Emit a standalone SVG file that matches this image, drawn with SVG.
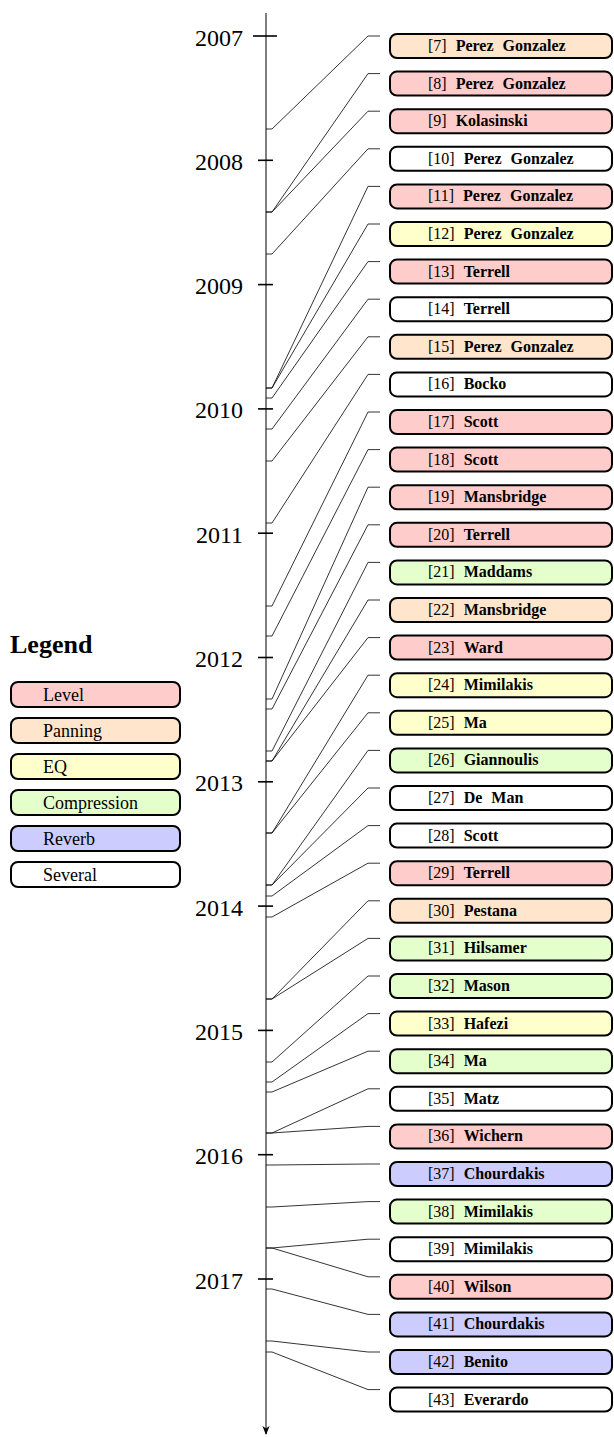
<svg xmlns="http://www.w3.org/2000/svg" width="614" height="1437" viewBox="0 0 614 1437">
<defs>
<marker id="arr" viewBox="0 0 10 10" refX="9" refY="5" markerWidth="9" markerHeight="9" markerUnits="userSpaceOnUse" orient="auto">
<path d="M0,1 L10,5 L0,9 L3,5 Z" fill="#000"/>
</marker>
</defs>
<style>
text{font-family:"Liberation Serif","Times New Roman",serif;fill:#000}
.yr{font-size:24px;text-anchor:end}
.bx text{font-size:16px;word-spacing:5px}
.bx rect{stroke:#000;stroke-width:2}
.lg rect{stroke:#000;stroke-width:2}
.lg text{font-size:18px}
.b{font-weight:bold}
.level rect{fill:#ffcccc}
.pan rect{fill:#ffe5cc}
.eq rect{fill:#ffffcc}
.comp rect{fill:#e5ffcc}
.rev rect{fill:#ccccff}
.sev rect{fill:#ffffff}
.conn path{fill:none;stroke:#000;stroke-width:0.8}
.tick{stroke:#000;stroke-width:1.6}
</style>
<rect width="614" height="1437" fill="#fff"/>
<g id="axis">
<line x1="266" y1="13" x2="266" y2="1434" stroke="#000" stroke-width="1" marker-end="url(#arr)"/>
<line class="tick" x1="253" y1="36" x2="277" y2="36"/>
<line class="tick" x1="258" y1="160.3" x2="273" y2="160.3"/>
<line class="tick" x1="258" y1="284.6" x2="273" y2="284.6"/>
<line class="tick" x1="258" y1="408.9" x2="273" y2="408.9"/>
<line class="tick" x1="258" y1="533.2" x2="273" y2="533.2"/>
<line class="tick" x1="258" y1="657.5" x2="273" y2="657.5"/>
<line class="tick" x1="258" y1="781.8" x2="273" y2="781.8"/>
<line class="tick" x1="258" y1="906.1" x2="273" y2="906.1"/>
<line class="tick" x1="258" y1="1030.4" x2="273" y2="1030.4"/>
<line class="tick" x1="258" y1="1154.7" x2="273" y2="1154.7"/>
<line class="tick" x1="258" y1="1279" x2="273" y2="1279"/>
<text class="yr" x="243" y="45.5">2007</text>
<text class="yr" x="243" y="169.8">2008</text>
<text class="yr" x="243" y="294.1">2009</text>
<text class="yr" x="243" y="418.4">2010</text>
<text class="yr" x="243" y="542.7">2011</text>
<text class="yr" x="243" y="667">2012</text>
<text class="yr" x="243" y="791.3">2013</text>
<text class="yr" x="243" y="915.6">2014</text>
<text class="yr" x="243" y="1039.9">2015</text>
<text class="yr" x="243" y="1164.2">2016</text>
<text class="yr" x="243" y="1288.5">2017</text>
</g>
<g id="legend" class="lg">
<text x="10" y="653" class="b" style="font-size:26px">Legend</text>
<g id="lg-level" class="level"><rect x="11" y="682" width="169" height="25" rx="7"/><text x="43" y="701">Level</text></g>
<g id="lg-pan" class="pan"><rect x="11" y="718" width="169" height="25" rx="7"/><text x="43" y="737">Panning</text></g>
<g id="lg-eq" class="eq"><rect x="11" y="754" width="169" height="25" rx="7"/><text x="43" y="773">EQ</text></g>
<g id="lg-comp" class="comp"><rect x="11" y="790" width="169" height="25" rx="7"/><text x="43" y="809">Compression</text></g>
<g id="lg-rev" class="rev"><rect x="11" y="826" width="169" height="25" rx="7"/><text x="43" y="845">Reverb</text></g>
<g id="lg-sev" class="sev"><rect x="11" y="862" width="169" height="25" rx="7"/><text x="43" y="881">Several</text></g>
</g>
<g id="connectors" class="conn">
<path d="M266,129 H272 L368,36 H380"/>
<path d="M266,212 H272 L368,73.6 H380"/>
<path d="M266,212 H272 L368,111.2 H380"/>
<path d="M266,254 H272 L368,148.8 H380"/>
<path d="M266,388 H272 L368,186.4 H380"/>
<path d="M266,388 H272 L368,224 H380"/>
<path d="M266,398 H272 L368,261.6 H380"/>
<path d="M266,429 H272 L368,299.2 H380"/>
<path d="M266,461 H272 L368,336.8 H380"/>
<path d="M266,523 H272 L368,374.4 H380"/>
<path d="M266,606 H272 L368,412 H380"/>
<path d="M266,636 H272 L368,449.6 H380"/>
<path d="M266,699 H272 L368,487.2 H380"/>
<path d="M266,709 H272 L368,524.8 H380"/>
<path d="M266,751 H272 L368,562.4 H380"/>
<path d="M266,761 H272 L368,600 H380"/>
<path d="M266,761 H272 L368,637.6 H380"/>
<path d="M266,833 H272 L368,675.2 H380"/>
<path d="M266,833 H272 L368,712.8 H380"/>
<path d="M266,885 H272 L368,750.4 H380"/>
<path d="M266,885 H272 L368,788 H380"/>
<path d="M266,896 H272 L368,825.6 H380"/>
<path d="M266,917 H272 L368,863.2 H380"/>
<path d="M266,999 H272 L368,900.8 H380"/>
<path d="M266,999 H272 L368,938.4 H380"/>
<path d="M266,1062 H272 L368,976 H380"/>
<path d="M266,1082 H272 L368,1013.6 H380"/>
<path d="M266,1092 H272 L368,1051.2 H380"/>
<path d="M266,1133 H272 L368,1088.8 H380"/>
<path d="M266,1133 H272 L368,1126.4 H380"/>
<path d="M266,1165 H272 L368,1164 H380"/>
<path d="M266,1207 H272 L368,1201.6 H380"/>
<path d="M266,1248 H272 L368,1239.2 H380"/>
<path d="M266,1248 H272 L368,1276.8 H380"/>
<path d="M266,1289 H272 L368,1314.4 H380"/>
<path d="M266,1341 H272 L368,1352 H380"/>
<path d="M266,1352 H272 L368,1389.6 H380"/>
</g>
<g id="n7" class="bx pan"><rect x="390" y="34" width="222" height="24" rx="7"/><text x="428" y="51">[7] <tspan class="b">Perez Gonzalez</tspan></text></g>
<g id="n8" class="bx level"><rect x="390" y="71.6" width="222" height="24" rx="7"/><text x="428" y="88.6">[8] <tspan class="b">Perez Gonzalez</tspan></text></g>
<g id="n9" class="bx level"><rect x="390" y="109.2" width="222" height="24" rx="7"/><text x="428" y="126.2">[9] <tspan class="b">Kolasinski</tspan></text></g>
<g id="n10" class="bx sev"><rect x="390" y="146.8" width="222" height="24" rx="7"/><text x="428" y="163.8">[10] <tspan class="b">Perez Gonzalez</tspan></text></g>
<g id="n11" class="bx level"><rect x="390" y="184.4" width="222" height="24" rx="7"/><text x="428" y="201.4">[11] <tspan class="b">Perez Gonzalez</tspan></text></g>
<g id="n12" class="bx eq"><rect x="390" y="222" width="222" height="24" rx="7"/><text x="428" y="239">[12] <tspan class="b">Perez Gonzalez</tspan></text></g>
<g id="n13" class="bx level"><rect x="390" y="259.6" width="222" height="24" rx="7"/><text x="428" y="276.6">[13] <tspan class="b">Terrell</tspan></text></g>
<g id="n14" class="bx sev"><rect x="390" y="297.2" width="222" height="24" rx="7"/><text x="428" y="314.2">[14] <tspan class="b">Terrell</tspan></text></g>
<g id="n15" class="bx pan"><rect x="390" y="334.8" width="222" height="24" rx="7"/><text x="428" y="351.8">[15] <tspan class="b">Perez Gonzalez</tspan></text></g>
<g id="n16" class="bx sev"><rect x="390" y="372.4" width="222" height="24" rx="7"/><text x="428" y="389.4">[16] <tspan class="b">Bocko</tspan></text></g>
<g id="n17" class="bx level"><rect x="390" y="410" width="222" height="24" rx="7"/><text x="428" y="427">[17] <tspan class="b">Scott</tspan></text></g>
<g id="n18" class="bx level"><rect x="390" y="447.6" width="222" height="24" rx="7"/><text x="428" y="464.6">[18] <tspan class="b">Scott</tspan></text></g>
<g id="n19" class="bx level"><rect x="390" y="485.2" width="222" height="24" rx="7"/><text x="428" y="502.2">[19] <tspan class="b">Mansbridge</tspan></text></g>
<g id="n20" class="bx level"><rect x="390" y="522.8" width="222" height="24" rx="7"/><text x="428" y="539.8">[20] <tspan class="b">Terrell</tspan></text></g>
<g id="n21" class="bx comp"><rect x="390" y="560.4" width="222" height="24" rx="7"/><text x="428" y="577.4">[21] <tspan class="b">Maddams</tspan></text></g>
<g id="n22" class="bx pan"><rect x="390" y="598" width="222" height="24" rx="7"/><text x="428" y="615">[22] <tspan class="b">Mansbridge</tspan></text></g>
<g id="n23" class="bx level"><rect x="390" y="635.6" width="222" height="24" rx="7"/><text x="428" y="652.6">[23] <tspan class="b">Ward</tspan></text></g>
<g id="n24" class="bx eq"><rect x="390" y="673.2" width="222" height="24" rx="7"/><text x="428" y="690.2">[24] <tspan class="b">Mimilakis</tspan></text></g>
<g id="n25" class="bx eq"><rect x="390" y="710.8" width="222" height="24" rx="7"/><text x="428" y="727.8">[25] <tspan class="b">Ma</tspan></text></g>
<g id="n26" class="bx comp"><rect x="390" y="748.4" width="222" height="24" rx="7"/><text x="428" y="765.4">[26] <tspan class="b">Giannoulis</tspan></text></g>
<g id="n27" class="bx sev"><rect x="390" y="786" width="222" height="24" rx="7"/><text x="428" y="803">[27] <tspan class="b">De Man</tspan></text></g>
<g id="n28" class="bx sev"><rect x="390" y="823.6" width="222" height="24" rx="7"/><text x="428" y="840.6">[28] <tspan class="b">Scott</tspan></text></g>
<g id="n29" class="bx level"><rect x="390" y="861.2" width="222" height="24" rx="7"/><text x="428" y="878.2">[29] <tspan class="b">Terrell</tspan></text></g>
<g id="n30" class="bx pan"><rect x="390" y="898.8" width="222" height="24" rx="7"/><text x="428" y="915.8">[30] <tspan class="b">Pestana</tspan></text></g>
<g id="n31" class="bx comp"><rect x="390" y="936.4" width="222" height="24" rx="7"/><text x="428" y="953.4">[31] <tspan class="b">Hilsamer</tspan></text></g>
<g id="n32" class="bx comp"><rect x="390" y="974" width="222" height="24" rx="7"/><text x="428" y="991">[32] <tspan class="b">Mason</tspan></text></g>
<g id="n33" class="bx eq"><rect x="390" y="1011.6" width="222" height="24" rx="7"/><text x="428" y="1028.6">[33] <tspan class="b">Hafezi</tspan></text></g>
<g id="n34" class="bx comp"><rect x="390" y="1049.2" width="222" height="24" rx="7"/><text x="428" y="1066.2">[34] <tspan class="b">Ma</tspan></text></g>
<g id="n35" class="bx sev"><rect x="390" y="1086.8" width="222" height="24" rx="7"/><text x="428" y="1103.8">[35] <tspan class="b">Matz</tspan></text></g>
<g id="n36" class="bx level"><rect x="390" y="1124.4" width="222" height="24" rx="7"/><text x="428" y="1141.4">[36] <tspan class="b">Wichern</tspan></text></g>
<g id="n37" class="bx rev"><rect x="390" y="1162" width="222" height="24" rx="7"/><text x="428" y="1179">[37] <tspan class="b">Chourdakis</tspan></text></g>
<g id="n38" class="bx comp"><rect x="390" y="1199.6" width="222" height="24" rx="7"/><text x="428" y="1216.6">[38] <tspan class="b">Mimilakis</tspan></text></g>
<g id="n39" class="bx sev"><rect x="390" y="1237.2" width="222" height="24" rx="7"/><text x="428" y="1254.2">[39] <tspan class="b">Mimilakis</tspan></text></g>
<g id="n40" class="bx level"><rect x="390" y="1274.8" width="222" height="24" rx="7"/><text x="428" y="1291.8">[40] <tspan class="b">Wilson</tspan></text></g>
<g id="n41" class="bx rev"><rect x="390" y="1312.4" width="222" height="24" rx="7"/><text x="428" y="1329.4">[41] <tspan class="b">Chourdakis</tspan></text></g>
<g id="n42" class="bx rev"><rect x="390" y="1350" width="222" height="24" rx="7"/><text x="428" y="1367">[42] <tspan class="b">Benito</tspan></text></g>
<g id="n43" class="bx sev"><rect x="390" y="1387.6" width="222" height="24" rx="7"/><text x="428" y="1404.6">[43] <tspan class="b">Everardo</tspan></text></g>
</svg>
